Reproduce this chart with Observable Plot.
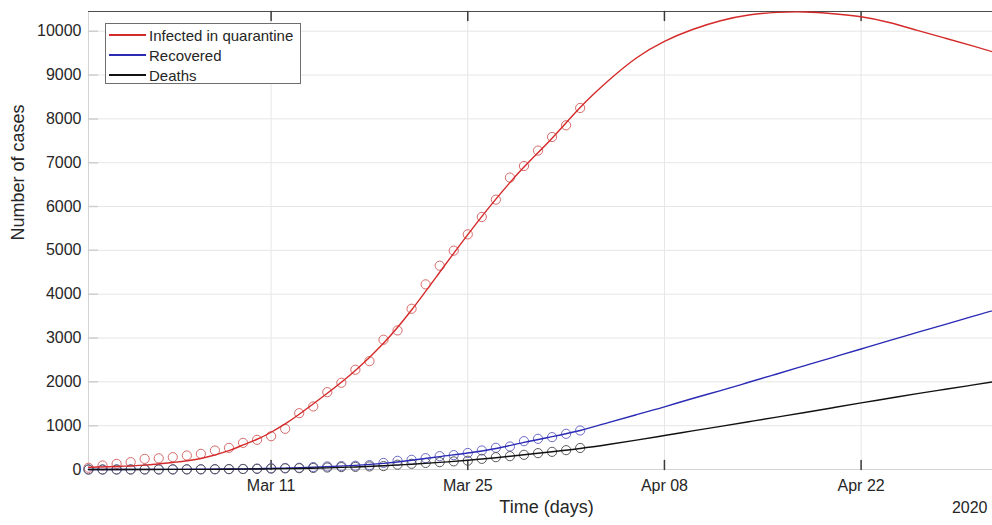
<!DOCTYPE html>
<html>
<head>
<meta charset="utf-8">
<script src="https://cdn.jsdelivr.net/npm/d3@7"></script>
<script src="https://cdn.jsdelivr.net/npm/@observablehq/plot@0.6"></script>
<style>
  html, body { margin: 0; padding: 0; background: #fff; overflow: hidden; }
  #wrap { position: relative; width: 992px; height: 525px; overflow: hidden; font-family: "Liberation Sans", Arial, sans-serif; }
  #legend { position: absolute; left: 105px; top: 23px; width: 196px; height: 61px; border: 1px solid #6e6e6e; background: #fff; box-sizing: border-box; }
  .lrow { position: absolute; left: 3px; height: 20px; display: flex; align-items: center; font-size: 15px; color: #262626; white-space: nowrap; }
  .lsw { display: inline-block; width: 37px; height: 1.5px; margin-right: 3px; }
</style>
</head>
<body>
<div id="wrap"><div id="legend"></div></div>
<script>
// ---------- data ----------
const obsDates = ["2020-02-27","2020-02-28","2020-02-29","2020-03-01","2020-03-02","2020-03-03","2020-03-04","2020-03-05","2020-03-06","2020-03-07","2020-03-08","2020-03-09","2020-03-10","2020-03-11","2020-03-12","2020-03-13","2020-03-14","2020-03-15","2020-03-16","2020-03-17","2020-03-18","2020-03-19","2020-03-20","2020-03-21","2020-03-22","2020-03-23","2020-03-24","2020-03-25","2020-03-26","2020-03-27","2020-03-28","2020-03-29","2020-03-30","2020-03-31","2020-04-01","2020-04-02"];
const obsInfected  = [40,91,129,167,243,255,281,319,357,433,494,608,677,760,928,1285,1438,1764,1979,2276,2472,2961,3173,3668,4224,4650,4993,5365,5761,6157,6660,6925,7276,7587,7854,8249];
const obsRecovered = [0,0,0,1,1,2,2,3,4,5,8,12,20,30,35,40,55,70,78,86,100,150,198,221,259,304,328,377,434,495,525,647,700,738,814,890];
const obsDeaths    = [0,0,0,1,1,2,3,4,5,7,9,12,15,20,25,30,35,45,55,60,70,78,110,130,150,168,185,200,243,281,304,335,373,403,441,491];

const fitDates = ["2020-02-27","2020-02-29","2020-03-02","2020-03-04","2020-03-06","2020-03-08","2020-03-09","2020-03-10","2020-03-11","2020-03-12","2020-03-13","2020-03-15","2020-03-17","2020-03-19","2020-03-21","2020-03-23","2020-03-25","2020-03-27","2020-03-29","2020-03-31","2020-04-02","2020-04-04","2020-04-06","2020-04-08","2020-04-10","2020-04-12","2020-04-14","2020-04-16","2020-04-18","2020-04-20","2020-04-22","2020-04-24","2020-04-26","2020-04-28","2020-04-30","2020-05-02"];
const fitInfected  = [50,70,100,160,250,430,560,690,850,1040,1260,1740,2260,2880,3640,4500,5360,6170,6900,7560,8260,8870,9390,9770,10040,10240,10370,10430,10440,10400,10330,10200,10020,9840,9660,9470];
const fitRecovered = [0,1,2,3,5,10,13,18,25,32,40,65,95,140,210,295,375,480,620,750,890,1070,1250,1430,1620,1800,1990,2180,2370,2560,2750,2940,3130,3310,3500,3680];
const fitDeaths    = [0,0,1,2,3,6,8,11,15,19,24,38,58,85,120,162,210,268,335,405,480,570,670,775,880,985,1090,1195,1300,1410,1520,1625,1730,1830,1930,2030];

const seriesNames = ["Infected in quarantine", "Recovered", "Deaths"];
const seriesColors = ["#d42a2a", "#2a2ab4", "#111111"];
const markerColors = ["#d76a6a", "#6a6ac8", "#5a5a5a"];

const xTickDates = ["2020-03-11","2020-03-25","2020-04-08","2020-04-22"];
const yTicks = [0,1000,2000,3000,4000,5000,6000,7000,8000,9000,10000];
const xDomain = ["2020-02-27T00:00Z","2020-05-02T05:00Z"];
const yDomain = [0, 10450];
const xLabel = "Time (days)";
const yLabel = "Number of cases";
const yearLabel = "2020";

// ---------- build ----------
const parse = s => new Date(s.length === 10 ? s + "T00:00Z" : s);
const obsVals = [obsInfected, obsRecovered, obsDeaths];
const fitVals = [fitInfected, fitRecovered, fitDeaths];
const obs = [], fit = [];
seriesNames.forEach((name, k) => {
  obsDates.forEach((d, i) => obs.push({date: parse(d), value: obsVals[k][i], series: name}));
  fitDates.forEach((d, i) => fit.push({date: parse(d), value: fitVals[k][i], series: name}));
});
const xTicks = xTickDates.map(parse);
const lineShape = {draw(context, l) { context.moveTo(0, 0); context.lineTo(0, -l); }};

const chart = Plot.plot({
  width: 1004,
  height: 525,
  marginTop: 11,
  marginBottom: 56,
  marginLeft: 88,
  marginRight: 0,
  style: {fontFamily: "'Liberation Sans', Arial, sans-serif", fontSize: "16px", color: "#262626", background: "#fff"},
  x: {type: "utc", domain: xDomain.map(parse)},
  y: {domain: yDomain},
  color: {domain: seriesNames, range: seriesColors},
  marks: [
    Plot.gridX(xTicks, {stroke: "#e6e6e6", strokeOpacity: 1}),
    Plot.gridY(yTicks, {stroke: "#e6e6e6", strokeOpacity: 1}),
    Plot.ruleY([yDomain[0]], {stroke: "#d4d4d4"}),
    Plot.ruleX([parse(xDomain[0])], {stroke: "#d4d4d4"}),
    Plot.ruleY([yDomain[1]], {stroke: "#4d4d4d"}),
    Plot.vector(xTicks, {x: d => d, frameAnchor: "bottom", length: 9, rotate: 0, anchor: "start", shape: lineShape, stroke: "#3a3a3a"}),
    Plot.vector(xTicks, {x: d => d, frameAnchor: "top", length: 9, rotate: 180, anchor: "start", shape: lineShape, stroke: "#3a3a3a"}),
    Plot.vector(yTicks, {y: d => d, frameAnchor: "left", length: 9, rotate: 90, anchor: "start", shape: lineShape, stroke: "#cfcfcf"}),
    Plot.axisX(xTicks, {tickSize: 0, tickPadding: 10, tickFormat: d3.utcFormat("%b %d"), label: null, fontSize: 16}),
    Plot.axisY(yTicks, {tickSize: 0, tickPadding: 7, tickFormat: d => String(d), label: null, fontSize: 16}),
    Plot.dot(obs, {x: "date", y: "value", r: 4.6, fill: "none", strokeWidth: 1,
      stroke: d => markerColors[seriesNames.indexOf(d.series)]}),
    Plot.line(fit, {x: "date", y: "value", z: "series", stroke: "series", strokeWidth: 1.4, curve: "natural"}),
    Plot.text([yLabel], {frameAnchor: "left", dx: -70, rotate: -90, fontSize: 18, fill: "#262626"}),
    Plot.text([xLabel], {frameAnchor: "bottom", dy: 43, fontSize: 18, fill: "#262626"}),
    Plot.text([yearLabel], {frameAnchor: "bottom-right", dx: -17, dy: 43, textAnchor: "end", fontSize: 16, fill: "#262626"})
  ]
});
chart.style.maxWidth = "none";
chart.style.display = "block";
const wrap = document.getElementById("wrap");
wrap.insertBefore(chart, wrap.firstChild);

const legend = document.getElementById("legend");
seriesNames.forEach((name, k) => {
  const row = document.createElement("div");
  row.className = "lrow";
  row.style.top = (1 + k * 20) + "px";
  const sw = document.createElement("span");
  sw.className = "lsw";
  sw.style.backgroundColor = seriesColors[k];
  const tx = document.createElement("span");
  tx.textContent = name;
  row.appendChild(sw); row.appendChild(tx);
  legend.appendChild(row);
});
</script>
</body>
</html>
